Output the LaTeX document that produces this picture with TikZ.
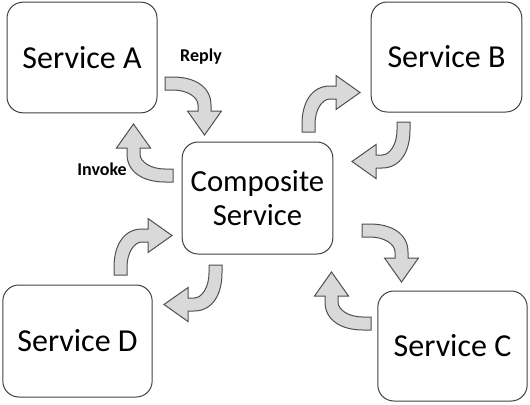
\documentclass[tikz,border=0pt]{standalone}
\usepackage{fontspec}
\setmainfont{Carlito}
\definecolor{boxline}{RGB}{64,64,64}
\definecolor{arrowgray}{RGB}{217,217,217}
\definecolor{arrowline}{RGB}{80,80,80}
\tikzset{
  svcbox/.style={draw=boxline, line width=0.75pt, rounded corners=12pt, align=center, inner sep=0pt,
    font=\fontsize{24}{29}\selectfont},
  msglabel/.style={inner sep=0.75pt, font=\fontsize{13.5}{16}\selectfont\bfseries},
  turnarrow/.style={fill=arrowgray, draw=arrowline, line width=0.75pt, line join=miter}
}
% bent block arrow: tail starts at the origin heading right, head points down
\newcommand{\turnarrow}{%
  \draw[turnarrow]
    (0,0) -- (8,0) .. controls (30,0) and (46,10) .. (46,28) -- (46,34) -- (56.5,34)
    -- (39.5,58) -- (22.5,34) -- (33,34) -- (33,28) .. controls (33,20) and (22,13) .. (8,13)
    -- (0,13) -- cycle;}
\begin{document}
\begin{tikzpicture}[x=0.75pt,y=0.75pt,yscale=-1,xscale=1]
  \useasboundingbox (0,0) rectangle (530,404);
  % Service nodes
  \node[svcbox, minimum width=112.5pt, minimum height=83pt] (svcA) at (82,57.5) {Service A};
  \node[svcbox, minimum width=113pt, minimum height=82.5pt] (svcB) at (446.5,57) {Service B};
  \node[svcbox, minimum width=113pt, minimum height=84pt, font=\fontsize{23}{25.5}\selectfont] (comp) at (257.5,198) {Composite\\Service};
  \node[svcbox, minimum width=112pt, minimum height=84pt] (svcD) at (77.5,341) {Service D};
  \node[svcbox, minimum width=112pt, minimum height=82.5pt] (svcC) at (452.5,346) {Service C};
  % Turn arrows
  \begin{scope}[shift={(165,77)}] \turnarrow \end{scope}
  \begin{scope}[shift={(173,182)}, cm={-1,0,0,-1,(0,0)}] \turnarrow \end{scope}
  \begin{scope}[shift={(302,132)}, cm={0,-1,1,0,(0,0)}] \turnarrow \end{scope}
  \begin{scope}[shift={(410,122)}, cm={0,1,-1,0,(0,0)}] \turnarrow \end{scope}
  \begin{scope}[shift={(114,275)}, cm={0,-1,1,0,(0,0)}] \turnarrow \end{scope}
  \begin{scope}[shift={(222,265)}, cm={0,1,-1,0,(0,0)}] \turnarrow \end{scope}
  \begin{scope}[shift={(362,224)}] \turnarrow \end{scope}
  \begin{scope}[shift={(371,330)}, cm={-1,0,0,-1,(0,0)}] \turnarrow \end{scope}
  % Text Node
  \node[msglabel] (reply) at (201,57) {Reply};
  \node[msglabel] (invoke) at (102,169) {Invoke};
\end{tikzpicture}
\end{document}
